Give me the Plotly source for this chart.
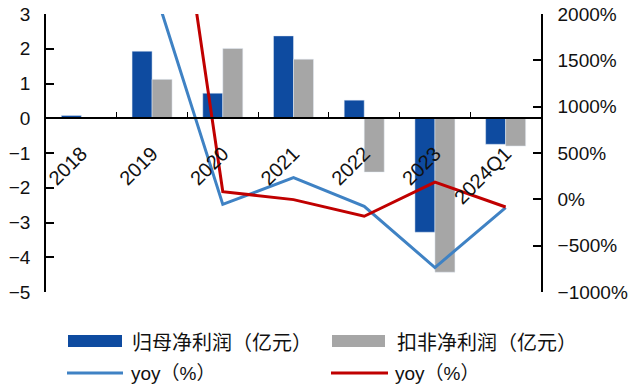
import plotly.graph_objects as go

# Categories and series
periods = ["2018", "2019", "2020", "2021", "2022", "2023", "2024Q1"]
net_profit = [0.08, 1.93, 0.72, 2.37, 0.52, -3.28, -0.75]          # 归母净利润（亿元）
net_profit_deducted = [None, 1.12, 2.01, 1.70, -1.55, -4.43, -0.80]  # 扣非净利润（亿元）
yoy_net = [None, 2350, -54, 234, -75, -736, -89]                     # yoy（%）
yoy_deducted = [None, 5300, 83, -3, -183, 186, -83]                  # yoy（%）

BLUE_BAR = "#0e4ba0"
GRAY_BAR = "#a6a6a6"
BLUE_LINE = "#3f82c4"
RED_LINE = "#c00000"
NUM_FONT = "Liberation Sans, Arial, Noto Sans CJK SC"
CJK_FONT = "Noto Sans CJK SC"

fig = go.Figure()
fig.add_bar(x=periods, y=net_profit, name="归母净利润（亿元）",
            marker_color=BLUE_BAR, yaxis="y", showlegend=False)
fig.add_bar(x=periods, y=net_profit_deducted, name="扣非净利润（亿元）",
            marker_color=GRAY_BAR, yaxis="y", showlegend=False)
fig.add_scatter(x=periods, y=yoy_net, name="yoy（%）", mode="lines",
                line=dict(color=BLUE_LINE, width=3), yaxis="y2", showlegend=False)
fig.add_scatter(x=periods, y=yoy_deducted, name="yoy（%）", mode="lines",
                line=dict(color=RED_LINE, width=3), yaxis="y2", showlegend=False)

# Plot area geometry (pixels) used to place the hand-drawn legend
W, H = 641, 392
L, R, T, B = 46, 100, 14, 100
pw, ph = W - L - R, H - T - B


def px(x):
    return (x - L) / pw


def py(y):
    return (H - B - y) / ph


legend_items = [
    ("rect", BLUE_BAR, 68, 122, 341, 130, "归母净利润（亿元）", CJK_FONT, 20),
    ("rect", GRAY_BAR, 332, 385, 341, 395, "扣非净利润（亿元）", CJK_FONT, 20),
    ("line", BLUE_LINE, 67, 123, 373, 129, "yoy（%）", NUM_FONT, 19),
    ("line", RED_LINE, 331, 388, 373, 393, "yoy（%）", NUM_FONT, 19),
]
shapes, annotations = [], []
for kind, color, x0, x1, yc, tx, label, fam, size in legend_items:
    if kind == "rect":
        shapes.append(dict(type="rect", xref="paper", yref="paper",
                           x0=px(x0), x1=px(x1), y0=py(yc + 6), y1=py(yc - 6),
                           fillcolor=color, line=dict(width=0)))
    else:
        shapes.append(dict(type="line", xref="paper", yref="paper",
                           x0=px(x0), x1=px(x1), y0=py(yc), y1=py(yc),
                           line=dict(color=color, width=3)))
    annotations.append(dict(xref="paper", yref="paper", x=px(tx), y=py(yc),
                            xanchor="left", yanchor="middle", showarrow=False,
                            text=label, font=dict(family=fam, size=size, color="#111")))

fig.update_layout(
    width=W, height=H,
    margin=dict(l=L, r=R, t=T, b=B, pad=0, autoexpand=False),
    paper_bgcolor="white", plot_bgcolor="white",
    barmode="group", bargap=0.434, bargroupgap=0,
    showlegend=False,
    shapes=shapes, annotations=annotations,
    font=dict(family=NUM_FONT, size=18, color="#111"),
    xaxis=dict(
        type="category", anchor="free", position=5 / 8, automargin=False,
        showline=True, linecolor="black", linewidth=1.5,
        ticks="inside", tickson="boundaries", ticklen=6, tickcolor="black",
        tickangle=-45, showgrid=False, zeroline=False,
        ticklabelstandoff=15,
        tickfont=dict(family=NUM_FONT, size=20, color="#111"),
    ),
    yaxis=dict(
        range=[-5, 3], dtick=1, showgrid=False, zeroline=False, automargin=False,
        showline=True, linecolor="black", linewidth=1.5,
        ticks="inside", ticklen=8, tickcolor="black", tickwidth=1.5,
        ticklabelstandoff=10,
        tickfont=dict(family=NUM_FONT, size=19, color="#111"),
    ),
    yaxis2=dict(
        range=[-1000, 2000], dtick=500, ticksuffix="%", overlaying="y", side="right",
        showgrid=False, zeroline=False, automargin=False,
        showline=True, linecolor="black", linewidth=1.5,
        ticks="inside", ticklen=8, tickcolor="black", tickwidth=1.5,
        ticklabelstandoff=11,
        tickfont=dict(family=NUM_FONT, size=19, color="#111"),
    ),
)

fig.write_html("out.html")
